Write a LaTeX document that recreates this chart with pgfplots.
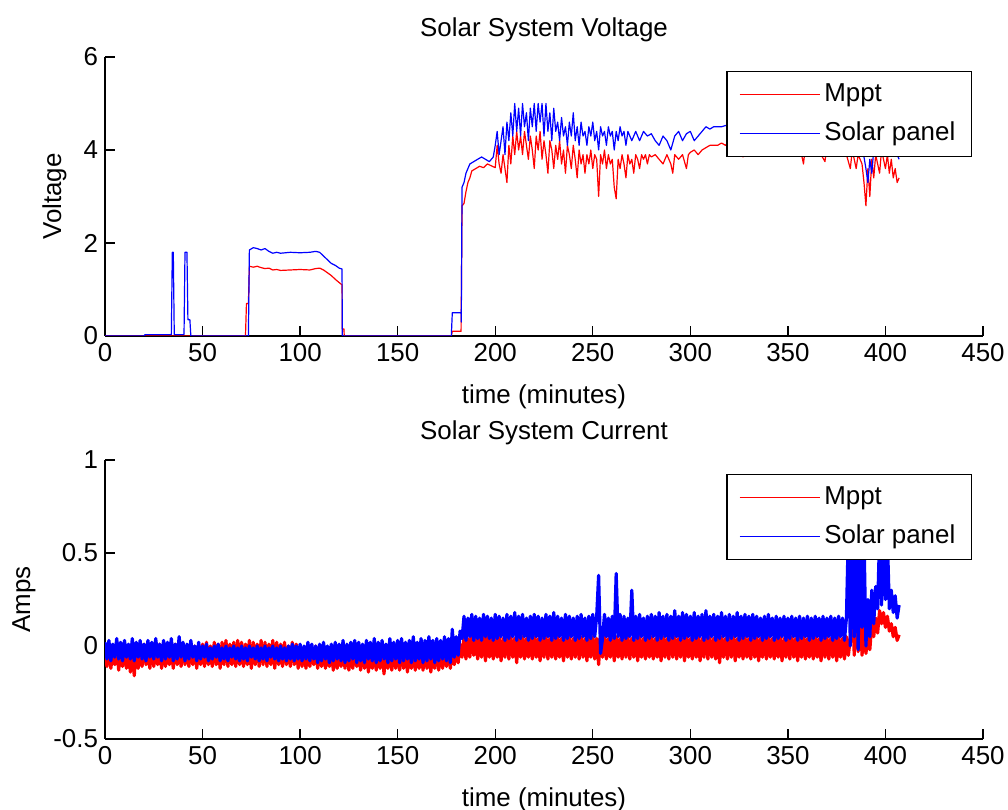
\documentclass[border=0pt]{standalone}
\usepackage{fontspec}
\setmainfont{Liberation Sans}
\usepackage{pgfplots}
\usepackage{pgfplotstable}
\pgfplotsset{compat=1.18}

\definecolor{mred}{RGB}{255,0,0}
\definecolor{mblue}{RGB}{0,0,255}

\pgfplotsset{
  mlab/.style={
    scale only axis,
    width=439bp, height=139.5bp,
    xmin=0, xmax=450,
    xtick={0,50,100,150,200,250,300,350,400,450},
    xticklabels={0,50,100,150,200,250,300,350,400,450},
    axis lines*=left,
    axis line style={line width=0.7bp, black},
    tick style={line width=0.7bp, black},
    tick align=inside,
    major tick length=5bp,
    tick label style={font=\fontsize{13}{15}\selectfont},
    every axis title/.style={at={(axis description cs:0.5,1)}, anchor=south,
      yshift=7.5bp, inner sep=0pt, font=\fontsize{13}{15}\selectfont},
    every axis x label/.style={at={(axis description cs:0.5,0)}, anchor=north,
      yshift=-24bp, inner sep=0pt, font=\fontsize{13}{15}\selectfont},
    legend style={at={(axis description cs:0.9875,0.951)}, anchor=north east,
      draw=black, line width=0.7bp, fill=white,
      font=\fontsize{13}{15}\selectfont,
      inner xsep=6bp, inner ysep=3.5bp, row sep=3.5bp,
      nodes={inner sep=2bp, text height=9.5bp, text depth=2.5bp}},
    legend cell align=left,
    legend image code/.code={\draw[#1, line width=0.6bp] (0bp,0bp) -- (40bp,0bp);},
  },
  mppt/.style={draw=mred, line width=0.6bp, line join=round},
  panel/.style={draw=mblue, line width=0.6bp, line join=round},
}

% current, Mppt
\pgfplotstableread[row sep=\\]{
x y\\
0 -0.02\\1 -0.11\\2 0.00\\3 -0.12\\4 -0.03\\5 -0.10\\6 0.01\\7 -0.13\\8 -0.02\\9 -0.11\\
10 0.00\\11 -0.12\\12 -0.01\\13 -0.14\\14 -0.03\\15 -0.16\\16 0.00\\17 -0.12\\18 -0.02\\19 -0.11\\
20 0.01\\21 -0.10\\22 -0.02\\23 -0.12\\24 0.00\\25 -0.11\\26 -0.01\\27 -0.10\\28 0.01\\29 -0.12\\
30 -0.01\\31 -0.11\\32 0.00\\33 -0.10\\34 -0.02\\35 -0.12\\36 0.01\\37 -0.10\\38 -0.01\\39 -0.11\\
40 0.00\\41 -0.10\\42 -0.02\\43 -0.11\\44 0.01\\45 -0.10\\46 0.00\\47 -0.12\\48 -0.01\\49 -0.10\\
50 0.01\\51 -0.11\\52 0.02\\53 -0.10\\54 0.00\\55 -0.11\\56 0.02\\57 -0.10\\58 0.01\\59 -0.12\\
60 0.02\\61 -0.10\\62 0.03\\63 -0.11\\64 0.01\\65 -0.10\\66 0.02\\67 -0.11\\68 0.03\\69 -0.10\\
70 0.02\\71 -0.11\\72 0.01\\73 -0.10\\74 0.03\\75 -0.12\\76 0.02\\77 -0.10\\78 0.01\\79 -0.11\\
80 0.03\\81 -0.10\\82 0.02\\83 -0.11\\84 0.01\\85 -0.10\\86 0.03\\87 -0.12\\88 0.02\\89 -0.10\\
90 0.01\\91 -0.11\\92 0.02\\93 -0.10\\94 0.00\\95 -0.11\\96 0.02\\97 -0.10\\98 0.01\\99 -0.12\\
100 0.00\\101 -0.11\\102 -0.01\\103 -0.12\\104 0.00\\105 -0.11\\106 -0.02\\107 -0.10\\108 0.00\\109 -0.12\\
110 -0.01\\111 -0.11\\112 0.00\\113 -0.12\\114 -0.02\\115 -0.11\\116 0.00\\117 -0.13\\118 -0.01\\119 -0.12\\
120 -0.02\\121 -0.11\\122 0.00\\123 -0.12\\124 -0.01\\125 -0.13\\126 -0.02\\127 -0.12\\128 0.00\\129 -0.11\\
130 -0.01\\131 -0.13\\132 -0.02\\133 -0.12\\134 0.00\\135 -0.14\\136 -0.01\\137 -0.12\\138 -0.02\\139 -0.13\\
140 0.00\\141 -0.12\\142 -0.01\\143 -0.15\\144 -0.02\\145 -0.12\\146 0.00\\147 -0.13\\148 -0.01\\149 -0.12\\
150 -0.02\\151 -0.13\\152 0.00\\153 -0.12\\154 -0.01\\155 -0.14\\156 -0.02\\157 -0.12\\158 0.00\\159 -0.13\\
160 -0.01\\161 -0.12\\162 -0.02\\163 -0.13\\164 0.00\\165 -0.12\\166 -0.01\\167 -0.14\\168 -0.02\\169 -0.12\\
170 0.00\\171 -0.13\\172 -0.01\\173 -0.12\\174 -0.02\\175 -0.11\\176 0.00\\177 -0.12\\178 -0.01\\179 -0.10\\
180 0.00\\181 -0.09\\182 0.01\\183 -0.06\\184 0.05\\185 -0.07\\186 0.04\\187 -0.06\\188 0.06\\189 -0.05\\
190 0.05\\191 -0.07\\192 0.04\\193 -0.06\\194 0.06\\195 -0.08\\196 0.05\\197 -0.06\\198 0.04\\199 -0.07\\
200 0.06\\201 -0.06\\202 0.05\\203 -0.08\\204 0.04\\205 -0.06\\206 0.06\\207 -0.07\\208 0.05\\209 -0.06\\
210 0.04\\211 -0.09\\212 0.06\\213 -0.06\\214 0.05\\215 -0.07\\216 0.04\\217 -0.06\\218 0.06\\219 -0.07\\
220 0.05\\221 -0.06\\222 0.04\\223 -0.08\\224 0.06\\225 -0.06\\226 0.05\\227 -0.07\\228 0.04\\229 -0.06\\
230 0.06\\231 -0.07\\232 0.05\\233 -0.06\\234 0.04\\235 -0.08\\236 0.06\\237 -0.06\\238 0.05\\239 -0.07\\
240 0.04\\241 -0.06\\242 0.06\\243 -0.07\\244 0.05\\245 -0.06\\246 0.04\\247 -0.08\\248 0.06\\249 -0.06\\
250 0.05\\251 -0.07\\252 0.04\\253 -0.10\\254 0.06\\255 -0.06\\256 0.05\\257 -0.07\\258 0.04\\259 -0.06\\
260 0.06\\261 -0.08\\262 0.05\\263 -0.06\\264 0.04\\265 -0.07\\266 0.06\\267 -0.06\\268 0.05\\269 -0.07\\
270 0.04\\271 -0.06\\272 0.06\\273 -0.08\\274 0.05\\275 -0.06\\276 0.04\\277 -0.07\\278 0.06\\279 -0.06\\
280 0.05\\281 -0.07\\282 0.04\\283 -0.06\\284 0.06\\285 -0.08\\286 0.05\\287 -0.06\\288 0.04\\289 -0.07\\
290 0.06\\291 -0.06\\292 0.05\\293 -0.07\\294 0.04\\295 -0.06\\296 0.06\\297 -0.08\\298 0.05\\299 -0.06\\
300 0.04\\301 -0.07\\302 0.06\\303 -0.06\\304 0.05\\305 -0.08\\306 0.04\\307 -0.06\\308 0.06\\309 -0.07\\
310 0.05\\311 -0.06\\312 0.04\\313 -0.07\\314 0.06\\315 -0.09\\316 0.05\\317 -0.06\\318 0.04\\319 -0.07\\
320 0.06\\321 -0.06\\322 0.05\\323 -0.08\\324 0.04\\325 -0.06\\326 0.06\\327 -0.07\\328 0.05\\329 -0.06\\
330 0.04\\331 -0.07\\332 0.06\\333 -0.06\\334 0.05\\335 -0.08\\336 0.04\\337 -0.06\\338 0.06\\339 -0.07\\
340 0.05\\341 -0.06\\342 0.04\\343 -0.07\\344 0.06\\345 -0.06\\346 0.05\\347 -0.08\\348 0.04\\349 -0.06\\
350 0.06\\351 -0.07\\352 0.05\\353 -0.06\\354 0.04\\355 -0.08\\356 0.06\\357 -0.06\\358 0.05\\359 -0.07\\
360 0.04\\361 -0.06\\362 0.06\\363 -0.07\\364 0.05\\365 -0.06\\366 0.04\\367 -0.08\\368 0.06\\369 -0.06\\
370 0.05\\371 -0.07\\372 0.04\\373 -0.06\\374 0.06\\375 -0.08\\376 0.05\\377 -0.06\\378 0.04\\379 -0.07\\
380 0.05\\381 -0.05\\382 0.04\\383 0.30\\384 -0.05\\385 0.33\\386 -0.03\\387 0.20\\388 -0.05\\389 0.10\\
390 -0.04\\391 0.05\\392 -0.02\\393 0.12\\394 0.05\\395 0.15\\396 0.07\\397 0.19\\398 0.12\\399 0.18\\
400 0.10\\401 0.16\\402 0.08\\403 0.12\\404 0.05\\405 0.10\\406 0.03\\407 0.06\\
}\curMppt

% current, solar panel
\pgfplotstableread[row sep=\\]{
x y\\
0 0.02\\1 -0.07\\2 0.03\\3 -0.08\\4 0.01\\5 -0.06\\6 0.04\\7 -0.07\\8 0.02\\9 -0.08\\
10 0.03\\11 -0.06\\12 0.01\\13 -0.07\\14 0.04\\15 -0.08\\16 0.02\\17 -0.06\\18 0.03\\19 -0.07\\
20 0.01\\21 -0.08\\22 0.03\\23 -0.06\\24 0.02\\25 -0.07\\26 0.04\\27 -0.06\\28 0.01\\29 -0.08\\
30 0.03\\31 -0.07\\32 0.02\\33 -0.06\\34 0.04\\35 -0.08\\36 0.01\\37 -0.07\\38 0.05\\39 -0.06\\
40 0.02\\41 -0.08\\42 0.01\\43 -0.07\\44 0.03\\45 -0.06\\46 0.00\\47 -0.08\\48 0.02\\49 -0.07\\
50 0.00\\51 -0.06\\52 0.01\\53 -0.08\\54 -0.01\\55 -0.07\\56 0.00\\57 -0.06\\58 0.01\\59 -0.08\\
60 -0.01\\61 -0.07\\62 0.00\\63 -0.08\\64 -0.01\\65 -0.06\\66 0.00\\67 -0.07\\68 -0.01\\69 -0.08\\
70 0.00\\71 -0.07\\72 -0.01\\73 -0.08\\74 0.00\\75 -0.06\\76 -0.01\\77 -0.07\\78 0.00\\79 -0.08\\
80 -0.01\\81 -0.07\\82 0.00\\83 -0.08\\84 -0.01\\85 -0.06\\86 0.00\\87 -0.07\\88 -0.01\\89 -0.08\\
90 0.00\\91 -0.07\\92 -0.01\\93 -0.08\\94 0.00\\95 -0.07\\96 0.01\\97 -0.08\\98 0.00\\99 -0.07\\
100 0.01\\101 -0.08\\102 0.00\\103 -0.07\\104 0.02\\105 -0.08\\106 0.01\\107 -0.07\\108 0.00\\109 -0.09\\
110 0.01\\111 -0.08\\112 0.02\\113 -0.07\\114 0.00\\115 -0.09\\116 0.01\\117 -0.08\\118 0.02\\119 -0.07\\
120 0.01\\121 -0.08\\122 0.03\\123 -0.09\\124 0.01\\125 -0.08\\126 0.02\\127 -0.07\\128 0.03\\129 -0.09\\
130 0.02\\131 -0.08\\132 0.01\\133 -0.09\\134 0.03\\135 -0.07\\136 0.02\\137 -0.08\\138 0.04\\139 -0.09\\
140 0.02\\141 -0.08\\142 0.03\\143 -0.07\\144 0.01\\145 -0.09\\146 0.04\\147 -0.08\\148 0.02\\149 -0.07\\
150 0.03\\151 -0.09\\152 0.04\\153 -0.08\\154 0.02\\155 -0.07\\156 0.03\\157 -0.09\\158 0.05\\159 -0.08\\
160 0.02\\161 -0.07\\162 0.04\\163 -0.09\\164 0.03\\165 -0.08\\166 0.05\\167 -0.07\\168 0.03\\169 -0.09\\
170 0.04\\171 -0.08\\172 0.03\\173 -0.07\\174 0.05\\175 -0.08\\176 0.04\\177 -0.09\\178 0.09\\179 -0.06\\
180 0.05\\181 -0.05\\182 0.08\\183 0.04\\184 0.16\\185 0.03\\186 0.15\\187 0.05\\188 0.17\\189 0.03\\
190 0.16\\191 0.04\\192 0.15\\193 0.03\\194 0.17\\195 0.05\\196 0.16\\197 0.04\\198 0.15\\199 0.03\\
200 0.17\\201 0.04\\202 0.16\\203 0.05\\204 0.15\\205 0.03\\206 0.17\\207 0.04\\208 0.16\\209 0.05\\
210 0.18\\211 0.03\\212 0.16\\213 0.04\\214 0.17\\215 0.05\\216 0.15\\217 0.03\\218 0.16\\219 0.04\\
220 0.17\\221 0.05\\222 0.16\\223 0.03\\224 0.15\\225 0.04\\226 0.17\\227 0.05\\228 0.16\\229 0.03\\
230 0.18\\231 0.04\\232 0.16\\233 0.05\\234 0.15\\235 0.03\\236 0.17\\237 0.04\\238 0.16\\239 0.05\\
240 0.15\\241 0.03\\242 0.16\\243 0.04\\244 0.17\\245 0.05\\246 0.15\\247 0.03\\248 0.16\\249 0.04\\
250 0.17\\251 0.05\\252 0.16\\253 0.38\\254 -0.04\\255 0.04\\256 0.17\\257 0.05\\258 0.15\\259 0.03\\
260 0.16\\261 0.04\\262 0.39\\263 0.05\\264 0.17\\265 0.03\\266 0.16\\267 0.04\\268 0.15\\269 0.05\\
270 0.30\\271 0.03\\272 0.16\\273 0.04\\274 0.17\\275 0.05\\276 0.15\\277 0.03\\278 0.16\\279 0.04\\
280 0.17\\281 0.05\\282 0.16\\283 0.03\\284 0.18\\285 0.04\\286 0.16\\287 0.05\\288 0.17\\289 0.03\\
290 0.16\\291 0.04\\292 0.19\\293 0.05\\294 0.16\\295 0.03\\296 0.18\\297 0.04\\298 0.17\\299 0.05\\
300 0.16\\301 0.03\\302 0.18\\303 0.04\\304 0.16\\305 0.05\\306 0.17\\307 0.03\\308 0.19\\309 0.04\\
310 0.16\\311 0.05\\312 0.17\\313 0.03\\314 0.16\\315 0.04\\316 0.18\\317 0.05\\318 0.16\\319 0.03\\
320 0.17\\321 0.04\\322 0.16\\323 0.05\\324 0.18\\325 0.03\\326 0.16\\327 0.04\\328 0.17\\329 0.05\\
330 0.16\\331 0.03\\332 0.17\\333 0.04\\334 0.16\\335 0.05\\336 0.15\\337 0.03\\338 0.16\\339 0.04\\
340 0.17\\341 0.05\\342 0.15\\343 0.03\\344 0.16\\345 0.04\\346 0.15\\347 0.05\\348 0.16\\349 0.03\\
350 0.15\\351 0.04\\352 0.16\\353 0.05\\354 0.15\\355 0.03\\356 0.16\\357 0.04\\358 0.15\\359 0.05\\
360 0.16\\361 0.03\\362 0.15\\363 0.04\\364 0.16\\365 0.05\\366 0.15\\367 0.03\\368 0.16\\369 0.04\\
370 0.15\\371 0.05\\372 0.16\\373 0.03\\374 0.15\\375 0.04\\376 0.16\\377 0.05\\378 0.15\\379 0.03\\
380 0.15\\381 0.62\\382 0.00\\383 0.65\\384 0.05\\385 0.60\\386 -0.02\\387 0.55\\388 0.10\\389 0.60\\
390 0.00\\391 0.25\\392 0.05\\393 0.30\\394 0.12\\395 0.32\\396 0.20\\397 0.60\\398 0.22\\399 0.62\\
400 0.25\\401 0.58\\402 0.20\\403 0.30\\404 0.18\\405 0.27\\406 0.15\\407 0.22\\
}\curPanel

\begin{document}
\begin{tikzpicture}
\useasboundingbox (0,0) rectangle (504bp,405bp);

\begin{axis}[mlab,
  at={(52.5bp,237bp)}, anchor=south west,
  ymin=0, ymax=6, ytick={0,2,4,6}, yticklabels={0,2,4,6},
  title={Solar System Voltage},
  xlabel={time (minutes)},
  ylabel={Voltage},
  every axis y label/.style={at={([xshift=-19bp]axis description cs:0,0.5)},
    rotate=90, anchor=south, inner sep=0pt, font=\fontsize{13}{15}\selectfont},
]
\addplot[mppt] coordinates {
  (0,0) (72,0) (72.5,0.7) (73.5,0.7) (74,1.5) (76,1.48) (78,1.5) (80,1.47)
  (82,1.45) (84,1.46) (86,1.42) (88,1.43) (90,1.41) (95,1.42) (100,1.43)
  (105,1.42) (108,1.45) (110,1.46) (112,1.42) (114,1.36) (116,1.3) (118,1.22)
  (120,1.15) (121.5,1.1) (121.6,0.15) (122.5,0.15) (122.6,0) (177.5,0)
  (178,0.1) (182.5,0.1) (183,2.8) (184,2.85) (185,3.1) (186,3.3) (187,3.4)
  (188,3.55) (190,3.6) (192,3.65) (194,3.62) (196,3.7) (198,3.66) (200,3.62)
  (201,4.1) (202,3.7) (203,3.5) (204,3.9) (205,3.6) (206,3.3) (207,4.1) (208,3.7)
  (209,4.3) (210,3.9) (211,4.4) (212,4.0) (213,4.3) (214,3.9) (215,4.4) (216,4.1)
  (217,3.8) (218,4.3) (219,4.0) (220,3.6) (221,4.3) (222,4.0) (223,4.4) (224,3.8)
  (225,4.2) (226,3.9) (227,3.5) (228,4.2) (229,4.0) (230,3.6) (231,4.1) (232,3.8)
  (233,4.2) (234,3.7) (235,4.0) (236,3.5) (237,4.1) (238,3.9) (239,3.6) (240,4.1)
  (241,3.8) (242,3.4) (243,4.0) (244,3.7) (245,3.9) (246,3.5) (247,3.9) (248,3.7)
  (249,4.0) (250,3.6) (251,3.9) (252,3.8) (253,3.0) (254,3.9) (255,3.7) (256,4.0)
  (257,3.6) (258,3.9) (259,3.7) (260,3.8) (261,3.2) (262,2.95) (263,3.8) (264,3.6)
  (265,3.9) (266,3.7) (267,3.4) (268,3.9) (269,3.7) (270,3.8) (271,3.5) (272,3.9)
  (273,3.8) (274,3.6) (275,3.9) (276,3.8) (277,3.9) (278,3.7) (279,3.9) (280,3.85)
  (282,3.9) (284,3.8) (286,3.7) (288,3.9) (290,3.7) (291,3.5) (292,3.9) (294,3.8)
  (296,3.9) (298,3.6) (299,3.9) (300,3.95) (302,4.0) (304,3.9) (306,4.0) (308,4.05)
  (310,4.1) (312,4.1) (314,4.1) (316,4.15) (318,4.1) (320,4.2) (325,4.15)
  (327,3.85) (328,4.15) (330,4.2) (335,4.1) (340,4.15) (345,4.1) (350,4.1)
  (355,3.95) (356,4.1) (358,3.7) (359,4.1) (365,4.05) (369,3.75) (370,4.1)
  (375,4.0) (380,3.9) (382,3.6) (383,4.0) (385,3.6) (386,3.9) (388,3.7) (389,3.3)
  (390,2.8) (391,3.6) (392,3.0) (393,3.8) (394,3.4) (395,3.9) (396,3.7) (397,3.5)
  (398,4.0) (399,3.8) (400,3.6) (401,3.9) (402,3.5) (403,3.8) (404,3.4) (405,3.6)
  (406,3.3) (407,3.4)
};
\addlegendentry{Mppt}
\addplot[panel] coordinates {
  (0,0) (20,0) (20.5,0.03) (34,0.03) (34.5,1.8) (35,1.8) (35.5,0.03) (40.5,0.03)
  (41,1.8) (42,1.8) (42.5,0.35) (43.5,0.35) (44,0) (73.5,0) (74,1.85) (76,1.9)
  (78,1.88) (80,1.85) (82,1.88) (84,1.82) (86,1.78) (88,1.8) (90,1.78) (95,1.8)
  (100,1.79) (105,1.8) (108,1.82) (110,1.8) (112,1.72) (114,1.64) (116,1.56)
  (118,1.52) (120,1.46) (121.5,1.44) (121.6,0) (177.5,0) (178,0.5) (182.5,0.5)
  (182.6,0.3) (183,3.2) (184,3.3) (185,3.5) (187,3.7) (189,3.75) (191,3.8)
  (193,3.85) (195,3.8) (197,3.75) (199,3.85) (200,4.1) (201,4.4) (202,3.9)
  (203,4.2) (204,4.5) (205,3.9) (206,4.6) (207,4.2) (208,4.8) (209,4.3) (210,5.0)
  (211,4.4) (212,4.9) (213,4.3) (214,5.0) (215,4.5) (216,4.8) (217,4.2) (218,4.9)
  (219,4.5) (220,5.0) (221,4.4) (222,5.0) (223,4.6) (224,5.0) (225,4.3) (226,5.0)
  (227,4.4) (228,4.8) (229,4.2) (230,4.9) (231,4.4) (232,4.6) (233,4.2) (234,4.7)
  (235,4.3) (236,4.5) (237,4.1) (238,4.6) (239,4.3) (240,4.8) (241,4.2) (242,4.5)
  (243,4.1) (244,4.6) (245,4.3) (246,4.4) (247,4.1) (248,4.5) (249,4.3) (250,4.6)
  (251,4.2) (252,4.4) (253,4.0) (254,4.5) (255,4.3) (256,4.4) (257,4.1) (258,4.5)
  (259,4.3) (260,4.4) (261,4.0) (262,4.4) (263,4.2) (264,4.5) (265,4.3) (266,4.4)
  (267,4.1) (268,4.4) (269,4.3) (270,4.2) (272,4.4) (274,4.2) (276,4.4) (278,4.3)
  (280,4.35) (282,4.2) (284,4.1) (286,4.3) (288,4.2) (290,4.0) (292,4.3) (294,4.4)
  (296,4.2) (298,4.35) (300,4.4) (302,4.2) (304,4.3) (306,4.4) (308,4.5)
  (310,4.45) (312,4.5) (316,4.5) (320,4.55) (325,4.6) (330,4.55) (340,4.6)
  (350,4.55) (360,4.6) (370,4.55) (380,4.5) (383,4.2) (385,3.9) (388,4.1)
  (390,3.6) (391,3.3) (392,3.8) (393,3.5) (394,4.0) (396,4.2) (398,3.9) (400,4.1)
  (402,3.9) (404,4.0) (406,3.9) (407,3.8)
};
\addlegendentry{Solar panel}
\end{axis}

\begin{axis}[mlab,
  at={(52.5bp,35.5bp)}, anchor=south west,
  ymin=-0.5, ymax=1, ytick={-0.5,0,0.5,1}, yticklabels={-0.5,0,0.5,1},
  title={Solar System Current},
  xlabel={time (minutes)},
  ylabel={Amps},
  every axis y label/.style={at={([xshift=-34.5bp]axis description cs:0,0.5)},
    rotate=90, anchor=south, inner sep=0pt, font=\fontsize{13}{15}\selectfont},
]
\addplot[mppt, line width=1.6bp] table[x=x, y=y] {\curMppt};
\addlegendentry{Mppt}
\addplot[panel, line width=1.6bp] table[x=x, y=y] {\curPanel};
\addlegendentry{Solar panel}
\end{axis}
\end{tikzpicture}
\end{document}
